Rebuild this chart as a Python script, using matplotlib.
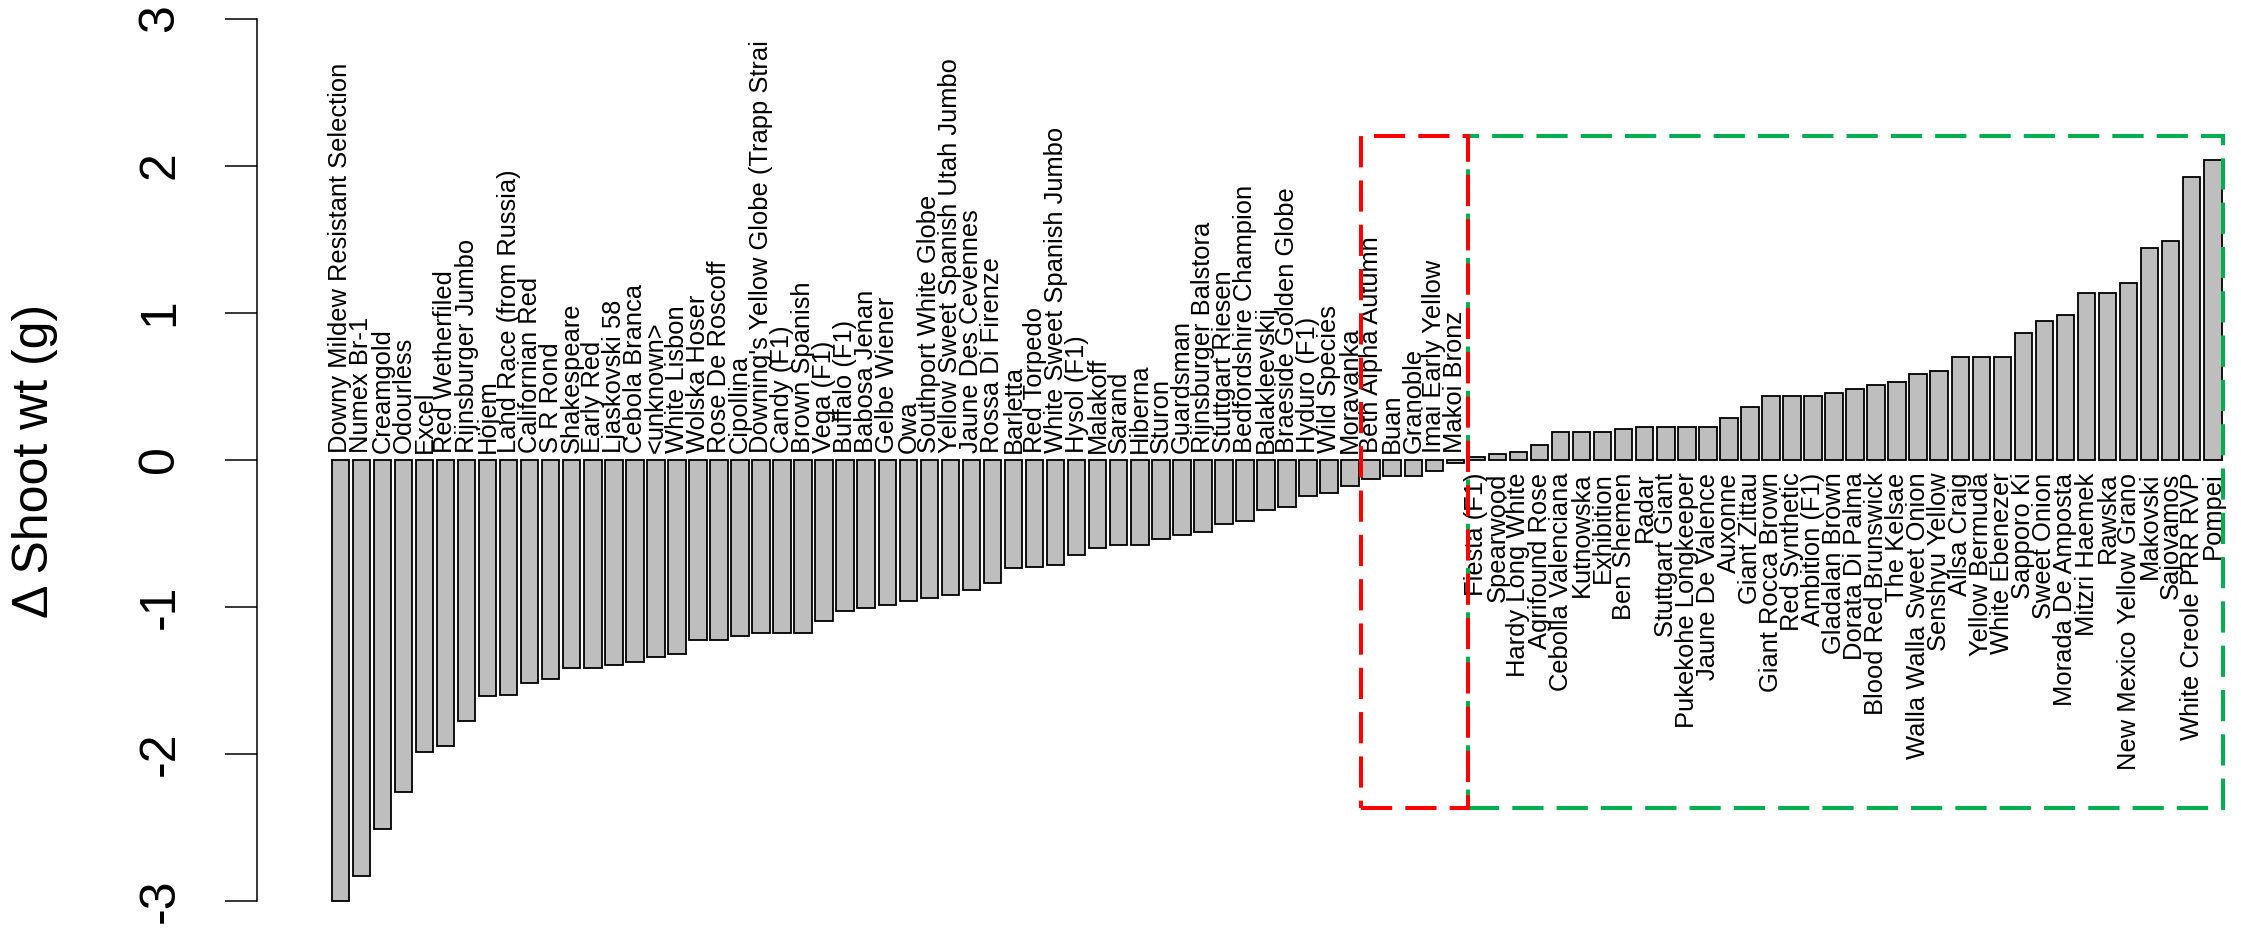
import matplotlib
matplotlib.use('Agg')
import matplotlib.pyplot as plt
import matplotlib.transforms as mtransforms
from matplotlib.patches import Rectangle

plt.rcParams['font.family'] = ['Liberation Sans', 'DejaVu Sans']

# ---------------- data ----------------
varieties = [
    "Downy Mildew Resistant Selection", "Numex Br-1", "Creamgold", "Odourless", "Excel",
    "Red Wetherfiled", "Rijnsburger Jumbo", "Höjem", "Land Race (from Russia)", "Californian Red",
    "S R Rond", "Shakespeare", "Early Red", "Ljaskovski 58", "Cebola Branca",
    "<unknown>", "White Lisbon", "Wolska Hoser", "Rose De Roscoff", "Cipollina",
    "Downing's Yellow Globe (Trapp Strai", "Candy (F1)", "Brown Spanish", "Vega (F1)", "Buffalo (F1)",
    "Babosa Jenan", "Gelbe Wiener", "Owa", "Southport White Globe", "Yellow Sweet Spanish Utah Jumbo",
    "Jaune Des Cevennes", "Rossa Di Firenze", "Barletta", "Red Torpedo", "White Sweet Spanish Jumbo",
    "Hysol (F1)", "Malakoff", "Sarand", "Hiberna", "Sturon",
    "Guardsman", "Rijnsburger Balstora", "Stuttgart Riesen", "Bedfordshire Champion", "Balakleevskij",
    "Braeside Golden Globe", "Hyduro (F1)", "Wild Species", "Moravanka", "Beth Alpha Autumn",
    "Buan", "Granoble", "Imai Early Yellow", "Makoi Bronz",
    "Fiesta (F1)", "Spearwood", "Hardy Long White", "Agrifound Rose", "Cebolla Valenciana",
    "Kutnowska", "Exhibition", "Ben Shemen", "Radar", "Stuttgart Giant",
    "Pukekohe Longkeeper", "Jaune De Valence", "Auxonne", "Giant Zittau", "Giant Rocca Brown",
    "Red Synthetic", "Ambition (F1)", "Gladalan Brown", "Dorata Di Palma", "Blood Red Brunswick",
    "The Kelsae", "Walla Walla Sweet Onion", "Senshyu Yellow", "Ailsa Craig", "Yellow Bermuda",
    "White Ebenezer", "Sapporo Ki", "Sweet Onion", "Morada De Amposta", "Mitzri Haemek",
    "Rawska", "New Mexico Yellow Grano", "Makovski", "Sajovamos", "White Creole PRR RVP",
    "Pompei",
]

delta_shoot_wt = [
    -3.00, -2.83, -2.51, -2.26, -1.99, -1.95, -1.78, -1.61, -1.60, -1.52,
    -1.49, -1.42, -1.42, -1.40, -1.38, -1.34, -1.32, -1.23, -1.23, -1.20,
    -1.18, -1.18, -1.18, -1.10, -1.03, -1.01, -0.99, -0.96, -0.94, -0.92,
    -0.89, -0.84, -0.74, -0.73, -0.72, -0.65, -0.60, -0.58, -0.58, -0.54,
    -0.51, -0.49, -0.44, -0.42, -0.34, -0.32, -0.25, -0.23, -0.18, -0.13,
    -0.11, -0.11, -0.08, -0.02,
    0.02, 0.04, 0.05, 0.10, 0.19, 0.19, 0.19, 0.21, 0.22, 0.22,
    0.22, 0.22, 0.28, 0.36, 0.43, 0.43, 0.43, 0.45, 0.48, 0.51,
    0.53, 0.58, 0.60, 0.70, 0.70, 0.70, 0.86, 0.94, 0.98, 1.13,
    1.13, 1.20, 1.44, 1.49, 1.92, 2.04,
]

y_ticks = [-3, -2, -1, 0, 1, 2, 3]
y_label = "Δ Shoot wt (g)"

# highlight boxes (bar-index ranges, y extents)
red_box = (49, 53, -2.37, 2.2)     # first/last bar index, ybottom, ytop
green_box = (54, 89, -2.37, 2.2)

# ---------------- plot ----------------
W, H = 2241, 930
fig = plt.figure(figsize=(W / 100, H / 100), dpi=100)
ax = fig.add_axes([257 / W, 0, 1 - 257 / W, 1])
ax.patch.set_visible(False)

bar_w = 1.0
space = 0.2
xpos = [space + bar_w / 2 + (bar_w + space) * i for i in range(len(delta_shoot_wt))]

ax.bar(xpos, delta_shoot_wt, width=bar_w, color='#BEBEBE', edgecolor='black',
       linewidth=1.3, zorder=2)

ax.set_xlim(-4.05, 109.11)
ax.set_ylim(-3.2, 3.126)

for s in ['top', 'right', 'bottom']:
    ax.spines[s].set_visible(False)
ax.spines['left'].set_bounds(-3, 3)
ax.spines['left'].set_linewidth(1.1)
ax.set_xticks([])
ax.set_yticks(y_ticks)
ax.set_yticklabels([str(t) for t in y_ticks])
ax.tick_params(axis='y', length=23, width=1.1, pad=30, labelsize=36)
for lab in ax.get_yticklabels():
    lab.set_rotation(90)
    lab.set_va('center')
    lab.set_ha('right')

fig.text(35 / W, 1 - 461 / H, y_label, rotation=90, ha='center', va='center', fontsize=36)

# bar labels
above = mtransforms.offset_copy(ax.transData, fig=fig, x=0, y=7, units='dots')
below = mtransforms.offset_copy(ax.transData, fig=fig, x=0, y=-13, units='dots')
for xp, v, name in zip(xpos, delta_shoot_wt, varieties):
    if v < 0:
        ax.text(xp, 0, name, rotation=90, ha='center', va='bottom', fontsize=18.4,
                transform=above, clip_on=False)
    else:
        ax.text(xp, 0, name, rotation=90, ha='center', va='top', fontsize=18.4,
                transform=below, clip_on=False)

# dashed highlight boxes
def box(spec, color, z):
    i0, i1, yb, yt = spec
    x0 = xpos[i0] - bar_w / 2 - 0.1
    x1 = xpos[i1] + bar_w / 2 + 0.1
    if i0 == 54:
        x0 = xpos[i0] - bar_w / 2
    if i1 == 53:
        x1 = xpos[i1] + bar_w / 2 + space
    r = Rectangle((x0, yb), x1 - x0, yt - yb, fill=False, edgecolor=color,
                  linewidth=2.9, linestyle=(0, (7.75, 3.25)), zorder=z, clip_on=False)
    ax.add_patch(r)

box(green_box, '#00B050', 5)
box(red_box, '#FF0000', 6)

fig.savefig('out.png', dpi=100, facecolor='white')
